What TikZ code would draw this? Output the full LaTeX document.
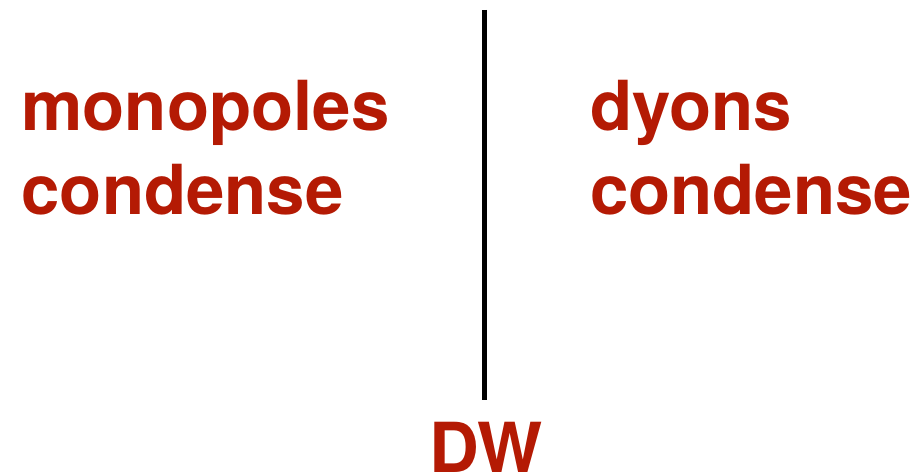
\documentclass[tikz,border=0pt]{standalone}
\usepackage{fontspec}
\setmainfont{TeX Gyre Heros}
\definecolor{labred}{RGB}{180,26,4}
\tikzset{
  lbl/.style={inner sep=0pt, outer sep=0pt, anchor=base west, text=labred, font=\fontsize{69}{84}\selectfont\bfseries},
  wall/.style={line width=5pt, black}
}
\begin{document}
\begin{tikzpicture}[x=1pt,y=1pt]
\useasboundingbox (0,0) rectangle (919,473);
\node[lbl] (mono) at (21.5,342.3) {monopoles};
\node[lbl] (monocond) at (21.5,258) {condense};
\node[lbl] (dyons) at (590,342.3) {dyons};
\node[lbl] (dyoncond) at (590,258) {condense};
\node[lbl, anchor=base] (dw) at (486,0.5) {DW};
\coordinate (top) at (484.5,463);
\coordinate (bot) at (484.5,73);
\draw[wall] (top) -- (bot);
\end{tikzpicture}
\end{document}
